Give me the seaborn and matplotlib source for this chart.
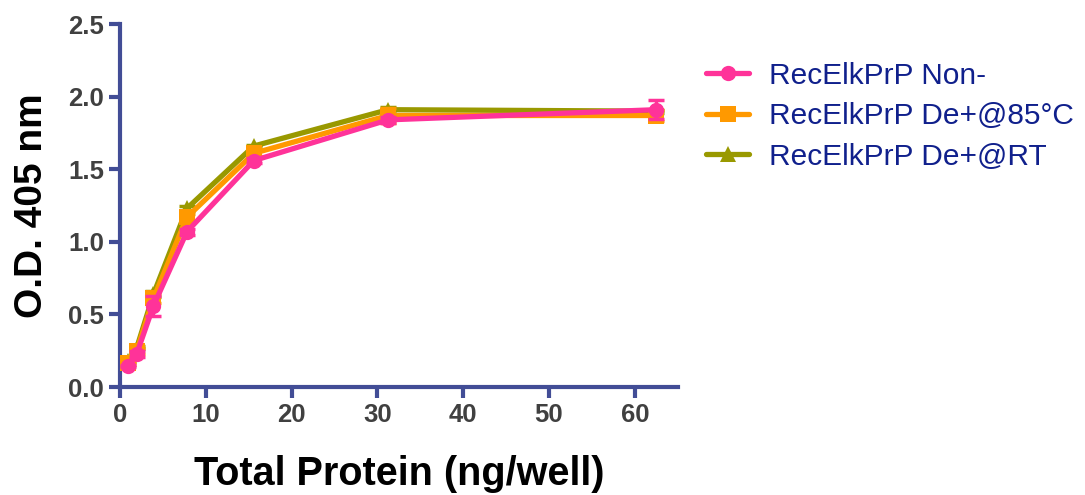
import numpy as np
import pandas as pd
import matplotlib
matplotlib.use("Agg")
import matplotlib.pyplot as plt
import seaborn as sns
from matplotlib.lines import Line2D

# ---- data ----
protein = [0.98, 1.95, 3.9, 7.8, 15.6, 31.25, 62.5]
series_names = ["RecElkPrP Non-", "RecElkPrP De+@85°C", "RecElkPrP De+@RT"]
od_non = [0.145, 0.23, 0.56, 1.07, 1.56, 1.84, 1.91]
od_85 = [0.165, 0.25, 0.61, 1.17, 1.61, 1.87, 1.87]
od_rt = [0.18, 0.27, 0.64, 1.23, 1.66, 1.91, 1.90]
err_non = [0.01, 0.02, 0.07, 0.02, 0.02, 0.02, 0.065]
err_85 = [0.01, 0.02, 0.03, 0.02, 0.02, 0.05, 0.04]
err_rt = [0.01, 0.01, 0.02, 0.02, 0.01, 0.02, 0.01]
y_ticks = [0.0, 0.5, 1.0, 1.5, 2.0, 2.5]
x_ticks = [0, 10, 20, 30, 40, 50, 60]

colors = {"RecElkPrP Non-": "#FF3399",
          "RecElkPrP De+@85°C": "#FF9900",
          "RecElkPrP De+@RT": "#999900"}
markers = {"RecElkPrP Non-": "o",
           "RecElkPrP De+@85°C": "s",
           "RecElkPrP De+@RT": "^"}

df = pd.DataFrame({
    "x": protein * 3,
    "y": od_non + od_85 + od_rt,
    "err": err_non + err_85 + err_rt,
    "series": [series_names[0]] * 7 + [series_names[1]] * 7 + [series_names[2]] * 7,
})

sns.set_style("ticks")
plt.rcParams["font.family"] = ["Liberation Sans", "DejaVu Sans"]

fig = plt.figure(figsize=(10.85, 4.95), dpi=100)
ax = fig.add_axes([0.1106, 0.218, 0.514, 0.7335])

axis_col = "#424D96"
draw_order = [series_names[2], series_names[1], series_names[0]]
for i, name in enumerate(draw_order):
    sub = df[df["series"] == name]
    ax.errorbar(sub["x"], sub["y"], yerr=sub["err"], fmt="none",
                ecolor=colors[name], elinewidth=2.5, capsize=6, capthick=2.5,
                zorder=2 + i)
    sns.lineplot(data=sub, x="x", y="y", color=colors[name], marker=markers[name],
                 markersize=11, markeredgewidth=0, linewidth=3.8, ax=ax,
                 legend=False, zorder=3 + i, errorbar=None)

ax.set_xlim(0, 65)
ax.set_ylim(0, 2.5)
ax.set_xticks(x_ticks)
ax.set_yticks(y_ticks)
ax.set_yticklabels([f"{v:.1f}" for v in y_ticks])

for s in ["top", "right"]:
    ax.spines[s].set_visible(False)
for s in ["left", "bottom"]:
    ax.spines[s].set_color(axis_col)
    ax.spines[s].set_linewidth(3)
ax.tick_params(axis="both", colors=axis_col, width=3, length=8, direction="out",
               labelcolor="#404040", labelsize=18.5)
for lab in ax.get_xticklabels() + ax.get_yticklabels():
    lab.set_fontweight("bold")

ax.set_xlabel("Total Protein (ng/well)", fontsize=28.5, fontweight="bold",
              color="black", labelpad=20)
ax.set_ylabel("O.D. 405 nm", fontsize=28, fontweight="bold", color="black",
              labelpad=13)

handles = [Line2D([0], [0], color=colors[n], marker=markers[n], markersize=11,
                  markeredgewidth=0, linewidth=3.8) for n in series_names]
leg = fig.legend(handles, series_names, loc="upper left",
                 bbox_to_anchor=(0.626, 0.93), frameon=False, fontsize=21.5,
                 handlelength=1.45, handletextpad=0.65, labelspacing=0.42)
for t in leg.get_texts():
    t.set_color("#10208C")

fig.savefig("out.png", dpi=100)
